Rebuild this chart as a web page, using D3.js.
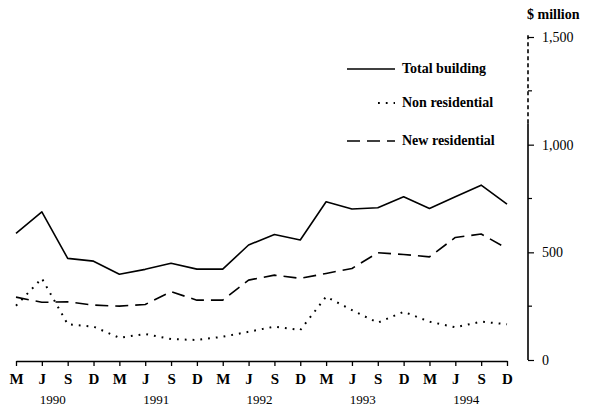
<!DOCTYPE html>
<html>
<head>
<meta charset="utf-8">
<script src="https://cdn.jsdelivr.net/npm/d3@7"></script>
<style>
  body { margin: 0; background: #fff; }
  svg { display: block; }
</style>
</head>
<body>
<script>
// quarters M J S D, 1990 to 1994
const quarters = ["M","J","S","D","M","J","S","D","M","J","S","D","M","J","S","D","M","J","S","D"];
const years = ["1990","1991","1992","1993","1994"];
const totalBuilding = [588,688,472,459,398,421,449,422,422,534,583,557,735,701,707,758,704,758,812,724];
const nonResidential = [252,379,166,155,103,121,97,93,108,131,155,139,294,232,173,224,178,152,178,166];
const newResidential = [292,268,270,255,250,258,317,278,278,371,394,379,402,425,498,490,479,569,585,518];
const yTicks = [0,500,1000,1500];
const yMinor = [250,750,1250];

const width = 592, height = 408;
const serif = "'Liberation Serif', 'DejaVu Serif', serif";

const svg = d3.select("body").append("svg")
    .attr("width", width)
    .attr("height", height);

const x = d3.scalePoint().domain(d3.range(quarters.length)).range([16, 507]);
const y = d3.scaleLinear().domain([0, 1500]).range([360, 37]);

// x axis
const xAxis = svg.append("g")
    .attr("transform", "translate(0,361)")
    .call(d3.axisBottom(x).tickSize(5).tickSizeOuter(0).tickFormat(i => quarters[i]));
xAxis.select(".domain").attr("stroke", "#000").attr("stroke-width", 1.6);
xAxis.selectAll(".tick line").attr("stroke", "#000").attr("stroke-width", 1.3);
xAxis.selectAll(".tick text")
    .attr("y", 12)
    .attr("dy", "0.71em")
    .style("font", "bold 15px " + serif)
    .attr("fill", "#000");

svg.append("g").selectAll("text").data(years).join("text")
    .attr("x", (d, k) => (x(k * 4 + 1) + x(k * 4 + 2)) / 2 - 2)
    .attr("y", 404)
    .attr("text-anchor", "middle")
    .style("font", "13px " + serif)
    .text(d => d);

// y axis on the right
const yAxis = svg.append("g")
    .attr("transform", "translate(528,0)")
    .call(d3.axisRight(y).tickValues(yTicks).tickSize(6).tickSizeOuter(0).tickFormat(d3.format(",")));
yAxis.select(".domain").remove();
yAxis.selectAll(".tick line").attr("stroke", "#000").attr("stroke-width", 1.2);
yAxis.selectAll(".tick text")
    .attr("x", 14)
    .style("font", "14px " + serif)
    .attr("fill", "#000");

svg.append("line")
    .attr("x1", 528).attr("x2", 528)
    .attr("y1", y(0)).attr("y2", y(1100))
    .attr("stroke", "#000").attr("stroke-width", 1.6);
svg.append("line")
    .attr("x1", 528).attr("x2", 528)
    .attr("y1", y(1100)).attr("y2", y(1500) - 3)
    .attr("stroke", "#000").attr("stroke-width", 1.6)
    .attr("stroke-dasharray", "4,3");

svg.append("g").selectAll("line").data(yMinor).join("line")
    .attr("x1", 528).attr("x2", 532)
    .attr("y1", d => y(d)).attr("y2", d => y(d))
    .attr("stroke", "#000").attr("stroke-width", 1.2);

svg.append("text")
    .attr("x", 527).attr("y", 19)
    .style("font", "bold 14px " + serif)
    .text("$ million");

// series
const line = d3.line().x((d, i) => x(i)).y(d => y(d));
const series = [
    {name: "Total building", values: totalBuilding, dash: null, ly: 69, lx0: 347},
    {name: "Non residential", values: nonResidential, dash: "1.8,6", ly: 103, lx0: 378},
    {name: "New residential", values: newResidential, dash: "13,7", ly: 141, lx0: 347}
];

svg.append("g").selectAll("path").data(series).join("path")
    .attr("d", s => line(s.values))
    .attr("fill", "none")
    .attr("stroke", "#000")
    .attr("stroke-width", s => s.dash === "1.8,6" ? 2 : 1.6)
    .attr("stroke-linejoin", "round")
    .attr("stroke-dasharray", s => s.dash);

// legend
const legend = svg.append("g");
legend.selectAll("line").data(series).join("line")
    .attr("x1", s => s.lx0).attr("x2", 395)
    .attr("y1", s => s.ly).attr("y2", s => s.ly)
    .attr("stroke", "#000")
    .attr("stroke-width", s => s.dash === "1.8,6" ? 2 : 1.4)
    .attr("stroke-dasharray", s => s.dash);
legend.selectAll("text").data(series).join("text")
    .attr("x", 402).attr("y", s => s.ly + 4)
    .style("font", "bold 14px " + serif)
    .text(s => s.name);
</script>
</body>
</html>
